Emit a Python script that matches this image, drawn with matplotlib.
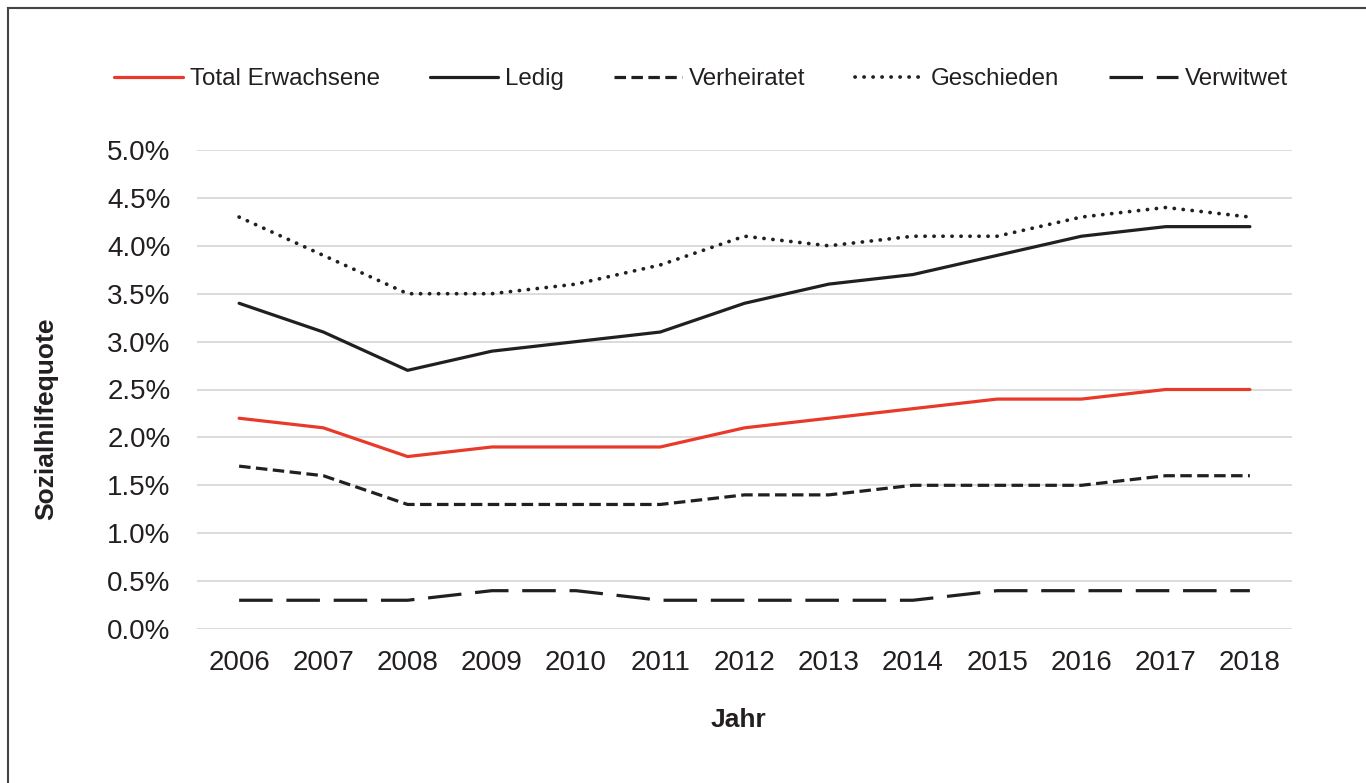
import matplotlib
matplotlib.use("Agg")
import matplotlib.pyplot as plt
from matplotlib.lines import Line2D
from matplotlib.ticker import PercentFormatter

plt.rcParams["font.family"] = ["Liberation Sans", "DejaVu Sans"]

years = ["2006", "2007", "2008", "2009", "2010", "2011", "2012",
         "2013", "2014", "2015", "2016", "2017", "2018"]
total = [2.2, 2.1, 1.8, 1.9, 1.9, 1.9, 2.1, 2.2, 2.3, 2.4, 2.4, 2.5, 2.5]
ledig = [3.4, 3.1, 2.7, 2.9, 3.0, 3.1, 3.4, 3.6, 3.7, 3.9, 4.1, 4.2, 4.2]
verheiratet = [1.7, 1.6, 1.3, 1.3, 1.3, 1.3, 1.4, 1.4, 1.5, 1.5, 1.5, 1.6, 1.6]
geschieden = [4.3, 3.9, 3.5, 3.5, 3.6, 3.8, 4.1, 4.0, 4.1, 4.1, 4.3, 4.4, 4.3]
verwitwet = [0.3, 0.3, 0.3, 0.4, 0.4, 0.3, 0.3, 0.3, 0.3, 0.4, 0.4, 0.4, 0.4]

W, H = 1366, 783
LW = 2.3
INK = "#231F20"
series = [
    ("Total Erwachsene", total, dict(color="#E8392A", ls="-")),
    ("Ledig", ledig, dict(color=INK, ls="-")),
    ("Verheiratet", verheiratet, dict(color=INK, ls=(0, (3.6, 1.7)))),
    ("Geschieden", geschieden, dict(color=INK, ls=(0, (0.05, 2.35)),
                                    dash_capstyle="round", lw=2.7)),
    ("Verwitwet", verwitwet, dict(color=INK, ls=(0, (10.5, 4.3)))),
]

fig = plt.figure(figsize=(W / 100, H / 100), dpi=100)
ax = fig.add_axes([197 / W, 1 - 629 / H, (1292 - 197) / W, (629 - 150) / H])

x = range(len(years))
handles = []
for label, vals, st in series:
    st = dict(st)
    lw = st.pop("lw", LW)
    ln, = ax.plot(x, vals, lw=lw, label=label, solid_capstyle="round", **st)
    handles.append(ln)

ax.set_xlim(-0.5, len(years) - 0.5)
ax.set_ylim(0, 5.0)
ax.set_yticks([i * 0.5 for i in range(11)])
ax.yaxis.set_major_formatter(PercentFormatter(decimals=1))
ax.set_xticks(list(x))
ax.set_xticklabels(years)
ax.grid(axis="y", color="#D9D9D9", lw=1.3)
ax.set_axisbelow(True)
for s in ax.spines.values():
    s.set_visible(False)
ax.tick_params(length=0, labelsize=20, colors=INK)
ax.tick_params(axis="x", pad=15)
ax.tick_params(axis="y", pad=19)

ax.set_xlabel("Jahr", fontsize=19, fontweight="bold", color=INK)
ax.xaxis.set_label_coords((738 - 197) / 1095, (629 - 720) / 479)
ax.xaxis.label.set_va("center")
ax.set_ylabel("Sozialhilfequote", fontsize=19, fontweight="bold", color=INK)
ax.yaxis.set_label_coords((46 - 197) / 1095, (629 - 419) / 479)
ax.yaxis.label.set_va("center")

fig.legend(handles=handles, loc="center", bbox_to_anchor=(701 / W, 1 - 79 / H),
           ncol=5, frameon=False, fontsize=17.4, handlelength=2.85,
           handletextpad=0.28, columnspacing=2.05, labelcolor=INK)

# frame (only left and top edge visible in the crop)
fig.add_artist(Line2D([7.5 / W, 7.5 / W], [0, 1 - 8 / H], color="#444444", lw=1.5))
fig.add_artist(Line2D([7.5 / W, 1], [1 - 8 / H, 1 - 8 / H], color="#444444", lw=1.5))

fig.savefig("out.png", dpi=100)
